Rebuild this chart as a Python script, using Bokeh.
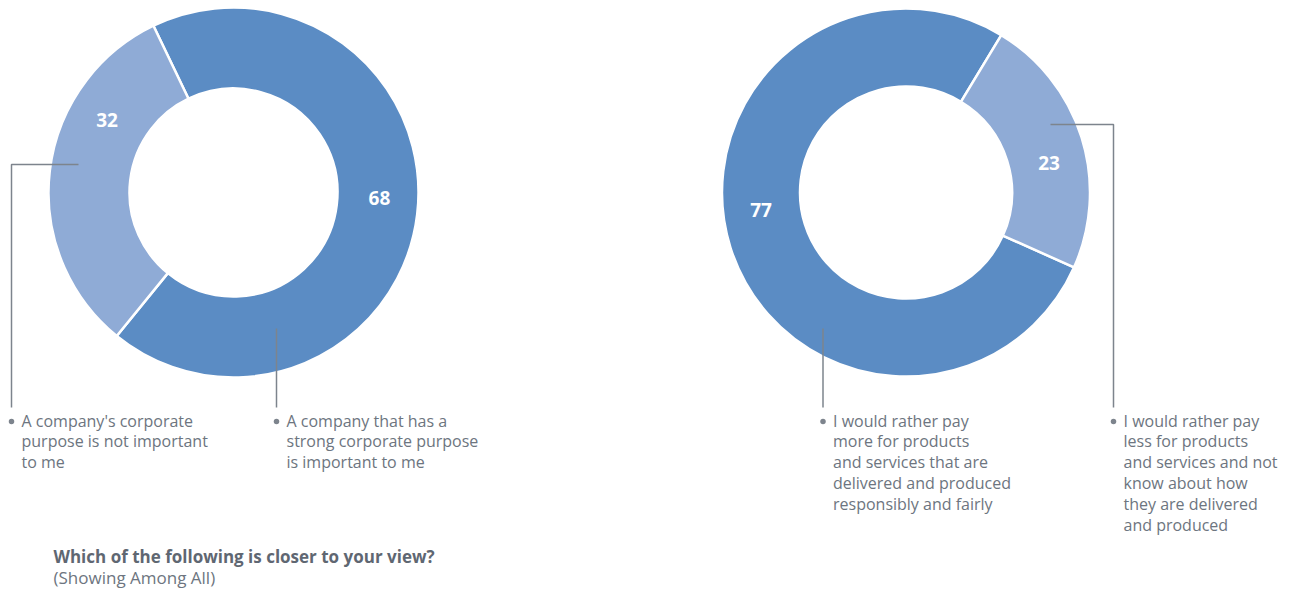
import math
from bokeh.plotting import figure
from bokeh.models import Range1d, ColumnDataSource
from bokeh.core.properties import value
from bokeh.embed import file_html
from bokeh.resources import INLINE

# ---- data ----
left_categories = ["A company that has a\nstrong corporate purpose\nis important to me",
                   "A company's corporate\npurpose is not important\nto me"]
left_values = [68, 32]
right_categories = ["I would rather pay\nmore for products\nand services that are\ndelivered and produced\nresponsibly and fairly",
                    "I would rather pay\nless for products\nand services and not\nknow about how\nthey are delivered\nand produced"]
right_values = [77, 23]
title_text = "Which of the following is closer to your view?"
subtitle_text = "(Showing Among All)"

# ---- style / layout ----
W, H = 1299, 592
DARK, LIGHT = "#5b8cc4", "#8fabd6"
GREY = "#6d7580"
LINE_GREY = "#7d848d"
FONT = "Open Sans"

def Y(py):
    return H - py

p = figure(width=W, height=H, output_backend="svg", toolbar_location=None,
           x_range=Range1d(0, W), y_range=Range1d(0, H),
           x_axis_type=None, y_axis_type=None, min_border=0)
p.outline_line_color = None
p.grid.visible = False
p.background_fill_color = "white"

donuts = [
    dict(cx=233, cy=192, R=185, r=104, start=-129.15, vals=left_values, cats=left_categories,
         lab_angles=[-2, 150], lab_r=146,
         leaders=[("v", 276, 328), ("h", 78, 164, 11)]),
    dict(cx=905.5, cy=192, R=184, r=106, start=58.8, vals=right_values, cats=right_categories,
         lab_angles=[187, 11.6], lab_r=146,
         leaders=[("v", 822.5, 328), ("h", 1050, 124, 1113)]),
]

LINE_END_Y = 407
DOT_Y = 421
TEXT_TOP = 409

for d in donuts:
    total = float(sum(d["vals"]))
    starts, ends = [], []
    a = math.radians(d["start"])
    for v in d["vals"]:
        starts.append(a)
        a += 2 * math.pi * v / total
        ends.append(a)
    src = ColumnDataSource(dict(x=[d["cx"]] * 2, y=[Y(d["cy"])] * 2,
                                s=starts, e=ends, c=[DARK, LIGHT]))
    p.annular_wedge(x="x", y="y", inner_radius=d["r"], outer_radius=d["R"],
                    start_angle="s", end_angle="e", fill_color="c",
                    line_color="white", line_width=2.5, source=src)
    lx = [d["cx"] + d["lab_r"] * math.cos(math.radians(t)) for t in d["lab_angles"]]
    ly = [Y(d["cy"]) + d["lab_r"] * math.sin(math.radians(t)) for t in d["lab_angles"]]
    p.text(x=lx, y=ly, text=[str(v) for v in d["vals"]], text_color="white",
           text_font=value(FONT), text_font_style="bold", text_font_size="19px",
           text_align="center", text_baseline="middle")
    for ld, cat in zip(d["leaders"], d["cats"]):
        if ld[0] == "v":
            colx = ld[1]
            p.line(x=[colx, colx], y=[Y(ld[2]), Y(LINE_END_Y)], line_color=LINE_GREY, line_width=1.5)
        else:
            colx = ld[3]
            p.line(x=[ld[1], colx, colx], y=[Y(ld[2]), Y(ld[2]), Y(LINE_END_Y)],
                   line_color=LINE_GREY, line_width=1.5)
        p.scatter(x=[colx], y=[Y(DOT_Y)], size=5.5, marker="circle",
                  fill_color=LINE_GREY, line_color=None)
        p.text(x=[colx + 10], y=[Y(TEXT_TOP)], text=[cat], text_color=GREY,
               text_font=value(FONT), text_font_size="16px",
               text_align="left", text_baseline="top", text_line_height=0.95)

p.text(x=[53], y=[Y(544)], text=[title_text], text_color="#5f6772",
       text_font=value(FONT), text_font_style="bold", text_font_size="17px",
       text_align="left", text_baseline="top")
p.text(x=[53], y=[Y(565)], text=[subtitle_text], text_color=GREY,
       text_font=value(FONT), text_font_size="17px",
       text_align="left", text_baseline="top")

open("out.html", "w").write(file_html(p, INLINE))
